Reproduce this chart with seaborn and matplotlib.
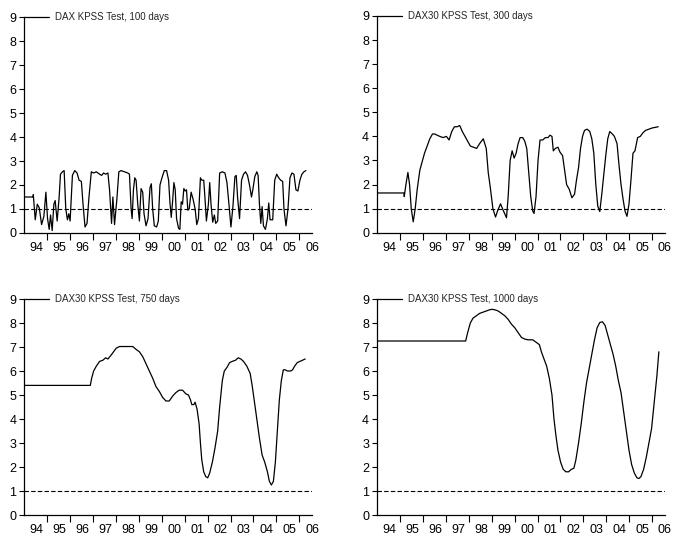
import matplotlib
matplotlib.use("Agg")
import matplotlib.pyplot as plt
import seaborn as sns
import numpy as np
import pandas as pd

sns.set_theme(style="white")
plt.rcParams['font.family'] = ['Liberation Sans', 'DejaVu Sans']

# ---------------- data (decimal years, KPSS statistic) ----------------
t100 = [1994.00, 1994.40, 1994.405, 1994.49, 1994.578, 1994.665, 1994.766, 1994.867, 1994.954, 1995.026,
        1995.098, 1995.156, 1995.228, 1995.301, 1995.358, 1995.445, 1995.532, 1995.590, 1995.676, 1995.749,
        1995.821, 1995.893, 1995.951, 1996.009, 1996.110, 1996.211, 1996.312, 1996.399, 1996.500, 1996.572,
        1996.659, 1996.746, 1996.832, 1996.934, 1997.035, 1997.150, 1997.295, 1997.382, 1997.468, 1997.555,
        1997.656, 1997.728, 1997.815, 1997.873, 1997.945, 1998.046, 1998.133, 1998.234, 1998.379, 1998.523,
        1998.595, 1998.668, 1998.711, 1998.769, 1998.827, 1998.884, 1998.957, 1999.029, 1999.101, 1999.173,
        1999.231, 1999.318, 1999.405, 1999.491, 1999.549, 1999.607, 1999.679, 1999.780, 1999.853, 1999.925,
        2000.012, 2000.113, 2000.214, 2000.301, 2000.358, 2000.416, 2000.474, 2000.532, 2000.590, 2000.647,
        2000.734, 2000.792, 2000.850, 2000.908, 2000.965, 2001.023, 2001.081, 2001.139, 2001.197, 2001.283,
        2001.370, 2001.457, 2001.529, 2001.601, 2001.688, 2001.746, 2001.832, 2001.890, 2001.948, 2002.035,
        2002.092, 2002.150, 2002.223, 2002.295, 2002.353, 2002.439, 2002.526, 2002.642, 2002.757, 2002.844,
        2002.931, 2003.017, 2003.104, 2003.191, 2003.249, 2003.306, 2003.393, 2003.480, 2003.566, 2003.653,
        2003.740, 2003.827, 2003.913, 2003.971, 2004.058, 2004.145, 2004.202, 2004.260, 2004.318, 2004.376,
        2004.434, 2004.520, 2004.607, 2004.665, 2004.723, 2004.838, 2004.925, 2005.012, 2005.098, 2005.185,
        2005.272, 2005.329, 2005.416, 2005.503, 2005.590, 2005.676, 2005.763, 2005.850, 2005.936, 2006.023,
        2006.110, 2006.197, 2006.283]
v100 = [1.50, 1.50, 1.60, 0.55, 1.20, 1.05, 0.35, 0.70, 1.70, 0.60,
        0.15, 0.75, 0.10, 1.20, 1.35, 0.50, 1.50, 2.45, 2.55, 2.60,
        1.00, 0.55, 0.80, 0.50, 2.40, 2.60, 2.50, 2.20, 2.15, 1.20,
        0.25, 0.40, 1.50, 2.55, 2.50, 2.55, 2.45, 2.40, 2.50, 2.45,
        2.50, 1.80, 0.40, 1.50, 0.35, 1.40, 2.55, 2.60, 2.55, 2.50,
        2.45, 1.00, 0.60, 1.80, 2.30, 2.20, 1.20, 0.50, 1.85, 1.70,
        0.80, 0.30, 0.60, 1.90, 2.05, 1.00, 0.30, 0.25, 0.50, 2.00,
        2.30, 2.60, 2.60, 2.20, 1.30, 0.65, 1.30, 2.10, 1.80, 0.60,
        0.20, 0.15, 1.30, 1.20, 1.85, 1.75, 1.80, 0.95, 1.00, 1.70,
        1.40, 1.00, 0.35, 0.60, 2.30, 2.20, 2.20, 1.40, 0.50, 1.20,
        2.10, 1.20, 0.45, 0.75, 0.40, 0.50, 2.50, 2.55, 2.50, 2.10,
        1.20, 0.25, 1.10, 2.35, 2.40, 1.50, 0.60, 2.20, 2.45, 2.55,
        2.40, 2.00, 1.50, 1.80, 2.35, 2.55, 2.40, 1.20, 0.40, 1.10,
        0.30, 0.15, 0.60, 1.25, 0.55, 0.55, 2.20, 2.45, 2.30, 2.20,
        2.15, 1.00, 0.30, 1.00, 2.30, 2.50, 2.45, 1.80, 1.75, 2.20,
        2.45, 2.55, 2.60]

t300 = [1994.00, 1995.185, 1995.199, 1995.272, 1995.358, 1995.431, 1995.503, 1995.590, 1995.676, 1995.763,
        1995.879, 1995.994, 1996.081, 1996.197, 1996.312, 1996.428, 1996.529, 1996.630, 1996.746, 1996.890,
        1997.035, 1997.150, 1997.266, 1997.382, 1997.497, 1997.613, 1997.728, 1997.844, 1997.960, 1998.075,
        1998.350, 1998.480, 1998.639, 1998.769, 1998.855, 1998.942, 1999.058, 1999.173, 1999.260, 1999.390,
        1999.520, 1999.650, 1999.723, 1999.809, 1999.896, 1999.983, 2000.069, 2000.156, 2000.243, 2000.358,
        2000.445, 2000.532, 2000.618, 2000.705, 2000.792, 2000.850, 2000.936, 2001.023, 2001.110, 2001.225,
        2001.341, 2001.457, 2001.543, 2001.630, 2001.688, 2001.775, 2001.890, 2001.977, 2002.092, 2002.179,
        2002.266, 2002.382, 2002.497, 2002.613, 2002.699, 2002.786, 2002.873, 2002.960, 2003.046, 2003.162,
        2003.277, 2003.364, 2003.451, 2003.538, 2003.624, 2003.711, 2003.798, 2003.884, 2003.971, 2004.058,
        2004.145, 2004.260, 2004.347, 2004.462, 2004.549, 2004.636, 2004.723, 2004.809, 2004.896, 2004.983,
        2005.069, 2005.156, 2005.243, 2005.358, 2005.474, 2005.590, 2005.705, 2005.850, 2005.994, 2006.254]
v300 = [1.65, 1.65, 1.50, 2.00, 2.50, 2.00, 1.00, 0.45, 1.00, 1.80,
        2.60, 3.00, 3.30, 3.60, 3.90, 4.10, 4.10, 4.05, 4.00, 3.95,
        4.00, 3.85, 4.20, 4.40, 4.40, 4.45, 4.20, 4.00, 3.80, 3.60,
        3.50, 3.70, 3.90, 3.50, 2.50, 1.90, 1.00, 0.65, 0.90, 1.20,
        0.90, 0.62, 1.50, 3.00, 3.40, 3.10, 3.30, 3.70, 3.95, 3.95,
        3.80, 3.50, 2.50, 1.50, 0.90, 0.80, 1.50, 3.00, 3.85, 3.85,
        3.95, 3.95, 4.05, 4.00, 3.40, 3.50, 3.55, 3.35, 3.20, 2.60,
        2.00, 1.80, 1.45, 1.60, 2.20, 2.70, 3.50, 4.00, 4.25, 4.30,
        4.20, 3.90, 3.30, 2.00, 1.10, 0.88, 1.60, 2.40, 3.20, 3.90,
        4.20, 4.10, 4.00, 3.70, 2.80, 2.00, 1.40, 0.90, 0.68, 1.20,
        2.20, 3.30, 3.40, 3.95, 4.00, 4.15, 4.25, 4.30, 4.35, 4.40]

t750 = [1994.00, 1996.890, 1996.948, 1997.035, 1997.150, 1997.295, 1997.439, 1997.555, 1997.656, 1997.786,
        1997.902, 1998.017, 1998.162, 1998.379, 1998.595, 1998.740, 1998.884, 1999.029, 1999.173, 1999.318,
        1999.462, 1999.607, 1999.751, 1999.896, 2000.040, 2000.185, 2000.329, 2000.474, 2000.618, 2000.763,
        2000.908, 2001.052, 2001.168, 2001.254, 2001.312, 2001.399, 2001.457, 2001.543, 2001.630, 2001.688,
        2001.746, 2001.832, 2001.919, 2002.006, 2002.092, 2002.208, 2002.324, 2002.439, 2002.526, 2002.642,
        2002.728, 2002.844, 2002.960, 2003.075, 2003.220, 2003.335, 2003.451, 2003.566, 2003.711, 2003.855,
        2003.942, 2004.029, 2004.145, 2004.260, 2004.376, 2004.491, 2004.607, 2004.694, 2004.780, 2004.867,
        2004.954, 2005.040, 2005.127, 2005.214, 2005.301, 2005.387, 2005.474, 2005.618, 2005.705, 2005.792,
        2005.908, 2006.023, 2006.254]
v750 = [5.40, 5.40, 5.70, 6.00, 6.20, 6.40, 6.45, 6.55, 6.50, 6.65,
        6.80, 6.95, 7.02, 7.02, 7.02, 7.02, 6.90, 6.80, 6.60, 6.30,
        6.00, 5.70, 5.35, 5.15, 4.90, 4.75, 4.75, 4.95, 5.10, 5.20,
        5.20, 5.05, 5.00, 4.80, 4.60, 4.60, 4.70, 4.40, 3.80, 3.00,
        2.30, 1.80, 1.60, 1.55, 1.75, 2.20, 2.80, 3.50, 4.50, 5.60,
        6.00, 6.15, 6.35, 6.40, 6.45, 6.55, 6.50, 6.40, 6.20, 5.90,
        5.40, 4.80, 4.00, 3.20, 2.50, 2.20, 1.80, 1.40, 1.25, 1.40,
        2.20, 3.50, 4.80, 5.60, 6.05, 6.05, 6.00, 6.00, 6.05, 6.20,
        6.35, 6.40, 6.50]

t1000 = [1994.00, 1997.873, 1997.960, 1998.075, 1998.191, 1998.335, 1998.480, 1998.624, 1998.769, 1998.913,
         1999.029, 1999.145, 1999.289, 1999.434, 1999.578, 1999.723, 1999.867, 2000.012, 2000.156, 2000.301,
         2000.445, 2000.590, 2000.792, 2000.936, 2001.081, 2001.168, 2001.283, 2001.399, 2001.514, 2001.630,
         2001.717, 2001.803, 2001.890, 2002.006, 2002.121, 2002.237, 2002.353, 2002.468, 2002.584, 2002.671,
         2002.786, 2002.902, 2003.017, 2003.133, 2003.249, 2003.364, 2003.480, 2003.595, 2003.711, 2003.827,
         2003.942, 2004.058, 2004.173, 2004.289, 2004.405, 2004.520, 2004.636, 2004.751, 2004.867, 2004.983,
         2005.098, 2005.214, 2005.329, 2005.416, 2005.503, 2005.618, 2005.734, 2005.850, 2005.965, 2006.081,
         2006.197, 2006.283]
v1000 = [7.25, 7.25, 7.60, 8.00, 8.20, 8.30, 8.40, 8.45, 8.50, 8.55,
         8.57, 8.55, 8.50, 8.40, 8.30, 8.15, 7.95, 7.80, 7.60, 7.40,
         7.33, 7.30, 7.30, 7.20, 7.10, 6.80, 6.50, 6.20, 5.70, 5.00,
         4.00, 3.30, 2.70, 2.20, 1.90, 1.80, 1.80, 1.90, 1.95, 2.30,
         3.00, 3.80, 4.70, 5.50, 6.10, 6.70, 7.30, 7.80, 8.02, 8.05,
         7.90, 7.50, 7.10, 6.70, 6.20, 5.60, 5.10, 4.30, 3.50, 2.70,
         2.10, 1.75, 1.55, 1.52, 1.60, 1.90, 2.40, 3.00, 3.60, 4.70,
         5.80, 6.80]

titles = ["DAX KPSS Test, 100 days", "DAX30 KPSS Test, 300 days",
          "DAX30 KPSS Test, 750 days", "DAX30 KPSS Test, 1000 days"]
year_labels = ["94", "95", "96", "97", "98", "99", "00", "01", "02", "03", "04", "05", "06"]
years = list(range(1994, 2007))
crit_value = 1.0

series = [(t100, v100), (t300, v300), (t750, v750), (t1000, v1000)]

# ---------------- figure ----------------
fig = plt.figure(figsize=(6.73, 5.37), dpi=100)
W, H = 673, 537
boxes = [(24, 17, 312, 233), (376.7, 16, 665, 232.7),
         (24, 299, 312, 515), (376.7, 299, 665, 515)]

for (x0, y0, x1, y1), (tt, vv), title in zip(boxes, series, titles):
    ax = fig.add_axes([x0 / W, 1 - y1 / H, (x1 - x0) / W, (y1 - y0) / H])
    df = pd.DataFrame({"t": tt, "v": vv})
    sns.lineplot(data=df, x="t", y="v", ax=ax, color="black", lw=0.9,
                 sort=False, estimator=None, label=title)
    ax.axhline(crit_value, color="black", lw=0.8, ls=(0, (4, 2)))
    ax.set_xlim(1994, 2006.5)
    ax.set_ylim(0, 9)
    ax.set_xlabel("")
    ax.set_ylabel("")
    for s in ["top", "right"]:
        ax.spines[s].set_visible(False)
    for s in ["left", "bottom"]:
        ax.spines[s].set_color("black")
        ax.spines[s].set_linewidth(0.9)
    ax.set_yticks(range(0, 10))
    ax.tick_params(axis="y", which="major", left=True, direction="out",
                   length=3.5, width=0.8, pad=2, labelsize=9, colors="black")
    ax.set_xticks(years[1:])
    ax.set_xticklabels([])
    ax.tick_params(axis="x", which="major", bottom=True, direction="out",
                   length=5, width=0.8, colors="black")
    ax.set_xticks([y + 0.55 for y in years], minor=True)
    ax.set_xticklabels(year_labels, minor=True)
    ax.tick_params(axis="x", which="minor", bottom=True, length=0, pad=6.5,
                   labelsize=9, colors="black")
    ax.grid(False)
    leg = ax.legend(loc="center left", bbox_to_anchor=(0, 1.0), frameon=False,
                    borderpad=0, borderaxespad=0, handlelength=2.6,
                    handletextpad=0.6, fontsize=7)
    for line in leg.get_lines():
        line.set_linewidth(0.9)

fig.savefig("out.png", dpi=100)
